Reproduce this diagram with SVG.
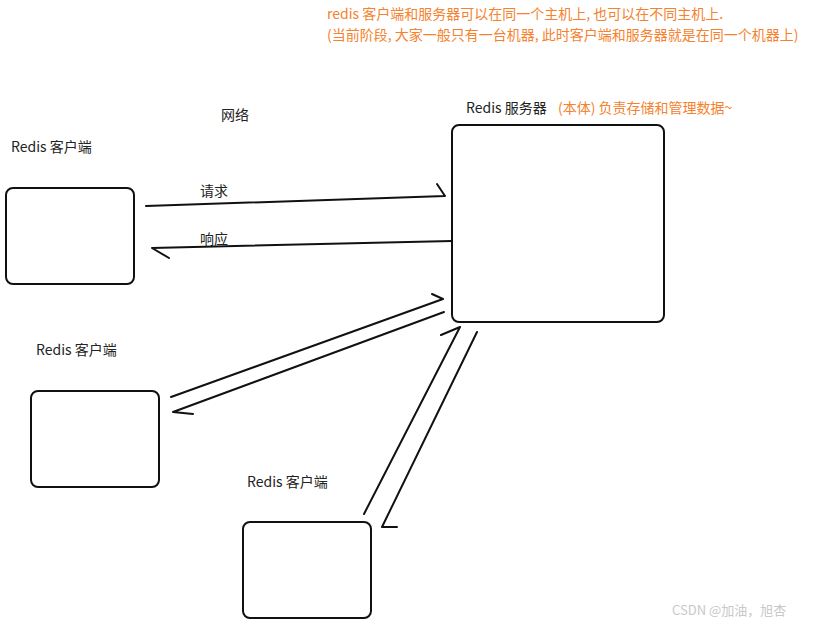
<svg xmlns="http://www.w3.org/2000/svg" width="814" height="627" viewBox="0 0 814 627">
<style>
.box{fill:#fff;stroke:#111;stroke-width:2}
.ln{fill:none;stroke:#111;stroke-width:2;stroke-linecap:round;stroke-linejoin:round}
.t{font-family:"Noto Sans CJK SC","Noto Sans",sans-serif;font-size:14px;fill:#222}
.o{font-family:"Noto Sans CJK SC","Noto Sans",sans-serif;font-size:14px;fill:#F5822E}
.w{font-family:"Noto Sans CJK SC","Noto Sans",sans-serif;font-size:13px;fill:#c8c8c8}
</style>
<rect width="814" height="627" fill="#fff"/>
<g id="note">
<text class="o" x="327" y="19">redis 客户端和服务器可以在同一个主机上, 也可以在不同主机上.</text>
<text class="o" x="327" y="40">(当前阶段, 大家一般只有一台机器, 此时客户端和服务器就是在同一个机器上)</text>
</g>
<g id="server">
<text class="t" x="466" y="113">Redis 服务器</text>
<text class="o" x="558" y="113">(本体) 负责存储和管理数据~</text>
<rect class="box" x="452" y="125" width="212" height="197" rx="7"/>
</g>
<g id="client1">
<text class="t" x="11" y="152">Redis 客户端</text>
<rect class="box" x="6" y="188" width="128" height="96" rx="7"/>
</g>
<g id="client2">
<text class="t" x="36" y="355">Redis 客户端</text>
<rect class="box" x="31" y="391" width="128" height="96" rx="7"/>
</g>
<g id="client3">
<text class="t" x="247" y="487">Redis 客户端</text>
<rect class="box" x="243" y="522" width="128" height="96" rx="7"/>
</g>
<g id="connectors">
<text class="t" x="221" y="120">网络</text>
<text class="t" x="200" y="196">请求</text>
<text class="t" x="200" y="244">响应</text>
<path class="ln" d="M146 206 L445 196 M437 184 L445 196"/>
<path class="ln" d="M452 241 L152 248 L169 258"/>
<path class="ln" d="M171 397 L443 299 M432 294 L443 299"/>
<path class="ln" d="M444 312 L173 412 L193 414"/>
<path class="ln" d="M364 514 L460 327 M441 335 L460 327"/>
<path class="ln" d="M477 332 L382 527 L397 527"/>
</g>
<text class="w" x="672" y="615">CSDN @加油，旭杏</text>
</svg>
